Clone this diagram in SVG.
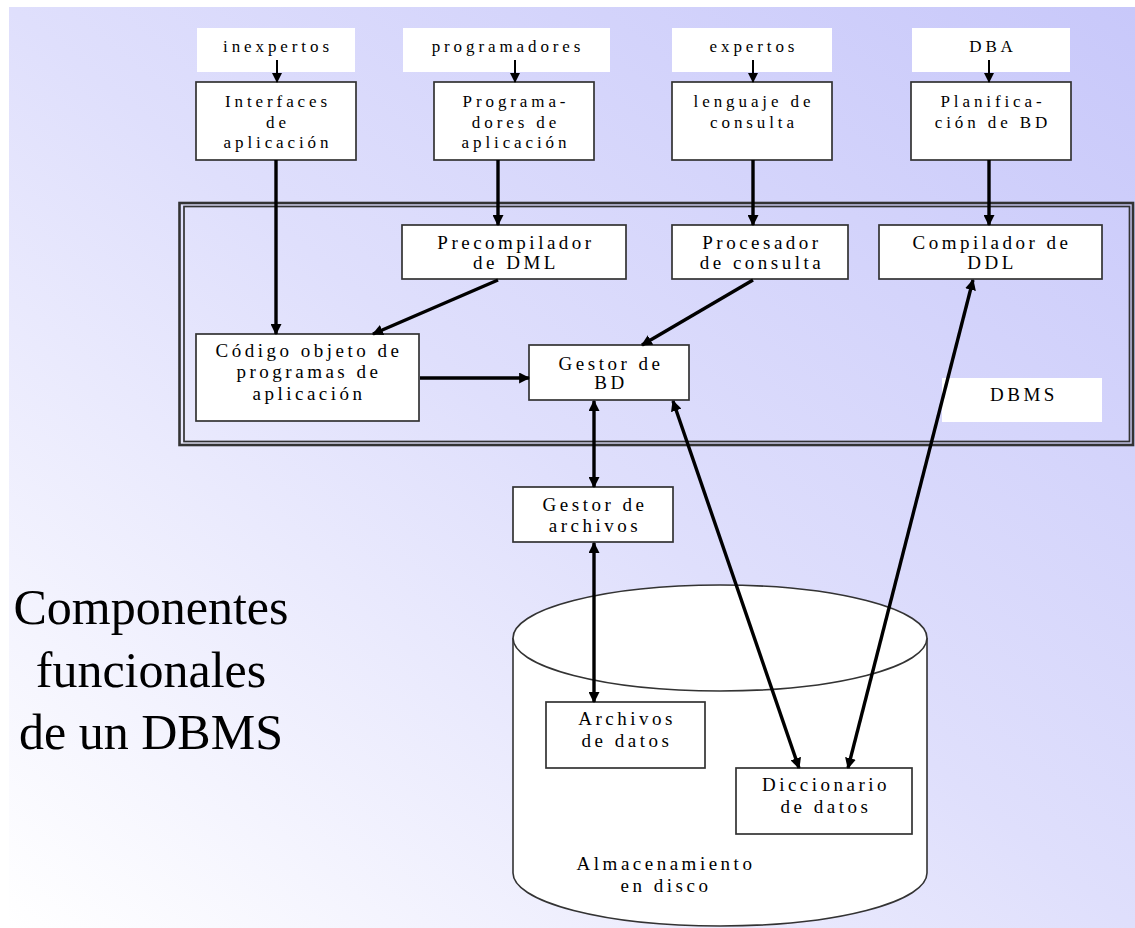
<svg xmlns="http://www.w3.org/2000/svg" width="1135" height="928" viewBox="0 0 1135 928">
  <defs>
    <linearGradient id="bg" x1="1" y1="0" x2="0" y2="1">
      <stop offset="0" stop-color="#c8c8fa"/>
      <stop offset="0.5" stop-color="#dfdffc"/>
      <stop offset="1" stop-color="#ffffff"/>
    </linearGradient>
    <marker id="head" viewBox="0 0 10 10" refX="9" refY="5" markerWidth="11" markerHeight="11" markerUnits="userSpaceOnUse" orient="auto-start-reverse">
      <path d="M0,0 L10,5 L0,10 z" fill="#000"/>
    </marker>
    <marker id="headS" viewBox="0 0 10 10" refX="9" refY="5" markerWidth="10" markerHeight="10" markerUnits="userSpaceOnUse" orient="auto-start-reverse">
      <path d="M0,0 L10,5 L0,10 z" fill="#000"/>
    </marker>
  </defs>
  <style>
    .box { fill: #ffffff; stroke: #333; stroke-width: 1.7; }
    .lbl { fill: #ffffff; }
    .t { font-family: "Liberation Serif", "Times New Roman", serif; fill: #000; text-anchor: middle; }
    .ts { font-size: 17px; letter-spacing: 3.9px; }
    .tm { font-size: 19px; letter-spacing: 3.5px; }
    .title { font-family: "Liberation Serif", "Times New Roman", serif; font-size: 50px; fill: #000; text-anchor: middle; }
    .c { stroke: #000; fill: none; }
    .thin { stroke-width: 2; marker-end: url(#headS); }
    .thick { stroke-width: 3.4; marker-end: url(#head); }
    .both { marker-start: url(#head); }
    .frame { fill: none; stroke: #333; }
  </style>

  <!-- page background -->
  <rect x="9" y="7" width="1126" height="921" fill="url(#bg)"/>

  <!-- title -->
  <g id="title">
    <text class="title" x="151" y="624">Componentes</text>
    <text class="title" x="151" y="687">funcionales</text>
    <text class="title" x="151" y="749">de un DBMS</text>
  </g>

  <!-- DBMS frame (double border) -->
  <g id="dbms">
    <rect class="frame" x="179.5" y="203" width="953.5" height="242" stroke-width="2.6"/>
    <rect class="frame" x="184" y="206.5" width="945.5" height="235" stroke-width="1.7"/>
    <rect class="lbl" x="942" y="378" width="160" height="44"/>
    <text class="t tm" x="1024" y="401">DBMS</text>
  </g>

  <!-- user labels -->
  <g id="user-inexpertos">
    <rect class="lbl" x="197" y="28" width="158" height="44"/>
    <text class="t ts" x="278" y="52">inexpertos</text>
  </g>
  <g id="user-programadores">
    <rect class="lbl" x="403" y="28" width="207" height="44"/>
    <text class="t ts" x="508" y="52">programadores</text>
  </g>
  <g id="user-expertos">
    <rect class="lbl" x="672" y="28" width="160" height="44"/>
    <text class="t ts" x="754" y="52">expertos</text>
  </g>
  <g id="user-dba">
    <rect class="lbl" x="912" y="28" width="158" height="44"/>
    <text class="t ts" x="993" y="52">DBA</text>
  </g>

  <!-- tools used by each user -->
  <g id="interfaces">
    <rect class="box" x="196" y="82" width="160" height="78"/>
    <text class="t ts" x="278" y="107">Interfaces</text>
    <text class="t ts" x="278" y="128">de</text>
    <text class="t ts" x="278" y="148">aplicación</text>
  </g>
  <g id="programas">
    <rect class="box" x="434" y="82" width="160" height="78"/>
    <text class="t ts" x="516" y="107">Programa-</text>
    <text class="t ts" x="516" y="128">dores de</text>
    <text class="t ts" x="516" y="148">aplicación</text>
  </g>
  <g id="lenguaje">
    <rect class="box" x="672" y="82" width="160" height="78"/>
    <text class="t ts" x="754" y="107">lenguaje de</text>
    <text class="t ts" x="754" y="128">consulta</text>
  </g>
  <g id="planificacion">
    <rect class="box" x="911" y="82" width="160" height="78"/>
    <text class="t ts" x="993" y="107">Planifica-</text>
    <text class="t ts" x="993" y="128">ción de BD</text>
  </g>

  <!-- DBMS internals -->
  <g id="precompilador">
    <rect class="box" x="402" y="225" width="224" height="54"/>
    <text class="t tm" x="516" y="249">Precompilador</text>
    <text class="t tm" x="516" y="269">de DML</text>
  </g>
  <g id="procesador">
    <rect class="box" x="672" y="225" width="176" height="54"/>
    <text class="t tm" x="762" y="249">Procesador</text>
    <text class="t tm" x="762" y="269">de consulta</text>
  </g>
  <g id="compilador">
    <rect class="box" x="879" y="225" width="223" height="54"/>
    <text class="t tm" x="992" y="249">Compilador de</text>
    <text class="t tm" x="992" y="269">DDL</text>
  </g>
  <g id="codigo">
    <rect class="box" x="196" y="334" width="223" height="87"/>
    <text class="t tm" x="309" y="357">Código objeto de</text>
    <text class="t tm" x="309" y="378">programas de</text>
    <text class="t tm" x="309" y="400">aplicación</text>
  </g>
  <g id="gestor-bd">
    <rect class="box" x="529" y="345" width="160" height="55"/>
    <text class="t tm" x="611" y="370">Gestor de</text>
    <text class="t tm" x="611" y="389">BD</text>
  </g>

  <!-- file manager -->
  <g id="gestor-archivos">
    <rect class="box" x="513" y="487" width="160" height="55"/>
    <text class="t tm" x="595" y="511">Gestor de</text>
    <text class="t tm" x="595" y="532">archivos</text>
  </g>

  <!-- disk storage -->
  <g id="disco">
    <path d="M513,638 L513,873 A207,53 0 0 0 927,873 L927,638" fill="#fff" stroke="#333" stroke-width="1.6"/>
    <ellipse cx="720" cy="638" rx="207" ry="53" fill="#fff" stroke="#333" stroke-width="1.6"/>
    <text class="t tm" x="666" y="870">Almacenamiento</text>
    <text class="t tm" x="666" y="892">en disco</text>
  </g>
  <g id="archivos-datos">
    <rect class="box" x="546" y="702" width="159" height="66"/>
    <text class="t tm" x="627" y="725">Archivos</text>
    <text class="t tm" x="627" y="747">de datos</text>
  </g>
  <g id="diccionario">
    <rect class="box" x="736" y="768" width="176" height="66"/>
    <text class="t tm" x="826" y="791">Diccionario</text>
    <text class="t tm" x="826" y="813">de datos</text>
  </g>

  <!-- connectors -->
  <g id="connectors">
    <line class="c thin" x1="277" y1="60" x2="277" y2="82"/>
    <line class="c thin" x1="515" y1="60" x2="515" y2="82"/>
    <line class="c thin" x1="753" y1="60" x2="753" y2="82"/>
    <line class="c thin" x1="989" y1="60" x2="989" y2="82"/>

    <line class="c thick" x1="276" y1="160" x2="276" y2="334"/>
    <line class="c thick" x1="498" y1="160" x2="498" y2="225"/>
    <line class="c thick" x1="753" y1="160" x2="753" y2="225"/>
    <line class="c thick" x1="989" y1="160" x2="989" y2="225"/>

    <line class="c thick" x1="498" y1="280" x2="373" y2="334"/>
    <line class="c thick" x1="753" y1="280" x2="642" y2="345"/>
    <line class="c thick" x1="420" y1="378" x2="529" y2="378"/>

    <line class="c thick both" x1="594" y1="401" x2="594" y2="487"/>
    <line class="c thick both" x1="594" y1="543" x2="594" y2="702"/>
    <line class="c thick both" x1="673" y1="401" x2="799" y2="768"/>
    <line class="c thick both" x1="973" y1="280" x2="848" y2="768"/>
  </g>
</svg>
